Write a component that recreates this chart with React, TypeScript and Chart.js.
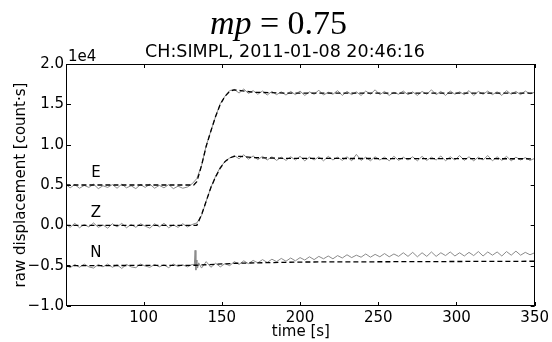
import React, { useEffect, useRef } from "react";
import { Chart, registerables } from "chart.js";
Chart.register(...registerables);

// ---- data ----
const T_START = 50;
const T_STEP = 3;

const eData = [
  5100, 4650, 5050, 4600, 4950, 4700, 5100, 4550, 4900, 4700,
  5050, 4600, 5100, 4650, 4900, 4550, 5050, 4700, 5100, 4600,
  4950, 4650, 5050, 4550, 4850, 4600, 4750, 5150, 5800, 7400,
  9900, 11700, 13500, 15100, 16000, 16700,
  16850, 16400, 16900, 16350, 16700, 16250, 16650, 16150, 16600, 16200,
  16550, 16150, 16600, 16200, 16650, 16100, 16550, 16250, 16750, 16150,
  16500, 16250, 16700, 16100, 16600, 16200, 16550, 16100, 16650, 16250,
  16800, 16200, 16600, 16100, 16500, 16250, 16650, 16200, 16550, 16100,
  16600, 16250, 16800, 16200, 16600, 16100, 16650, 16250, 16550, 16200,
  16700, 16100, 16600, 16250, 16650, 16200, 16550, 16100, 16700, 16250,
  16600, 16200, 16650, 16300, 16500,
];

const zData = [
  200, -250, 250, -300, 100, -200, 300, -250, 50, -350,
  200, -200, 250, -300, 100, -250, 200, -100, -350, 200,
  -200, 250, -300, 50, -250, 200, -200, 100, 300, 1200,
  3000, 4700, 6100, 7200, 7900, 8350,
  8650, 8250, 8750, 8200, 8600, 8150, 8550, 8100, 8500, 8050,
  8450, 8050, 8500, 8100, 8550, 8000, 8450, 8100, 8500, 8000,
  8550, 8100, 8450, 8050, 8500, 8000, 8800, 8050, 8450, 8000,
  8500, 8100, 8450, 8000, 8550, 8050, 8450, 8100, 8500, 8000,
  8550, 8050, 8450, 8100, 8600, 8000, 8500, 8100, 8650, 8050,
  8500, 8000, 8450, 8100, 8650, 8000, 8500, 8050, 8550, 8000,
  8450, 8100, 8400, 8050, 8300,
];

const nData = [
  -4900, -5250, -4850, -5200, -4800, -5150, -5300, -4850, -5150, -4800,
  -5200, -4900, -5350, -4850, -5150, -5250, -4800, -5050, -5200, -4850,
  -5150, -4900, -5250, -4800, -5100, -4900, -5150, -4850, -4800, -5300,
  -4500, -5200, -4700, -5150, -4750, -5000,
  -4500, -4850, -4400, -4750, -4350, -4650, -4250, -4600, -4200, -4500,
  -4100, -4450, -4050, -4400, -4000, -4300, -3900, -4250, -3850, -4150,
  -3800, -4150, -3750, -4050, -3650, -4000, -3700, -3950, -3550, -3950,
  -3600, -3900, -3500, -3900, -3550, -3850, -3400, -3850, -3350, -3900,
  -3400, -3850, -3300, -3850, -3400, -3750, -3300, -3800, -3400, -3800,
  -3350, -3750, -3250, -3800, -3300, -3700, -3300, -3800, -3250, -3700,
  -3200, -3700, -3350, -3650, -3400,
];

const nSpikeT = [132.4, 132.9, 133.4, 133.9, 134.5, 135.2];
const nSpikeV = [-4950, -3100, -5550, -4300, -5300, -4650];

const eModelT = [50, 132, 134, 137, 140, 143, 146, 149, 152, 155, 158, 162, 170, 190, 350];
const eModelV = [5000, 5000, 5400, 7400, 9800, 11700, 13500, 15000, 16000, 16600, 16800, 16700, 16500, 16400, 16400];

const zModelT = [50, 134, 137, 140, 143, 146, 149, 152, 155, 158, 162, 170, 190, 350];
const zModelV = [0, 0, 1300, 3000, 4700, 6000, 7100, 7900, 8350, 8550, 8550, 8400, 8300, 8250];

const nModelT = [50, 133, 160, 200, 350];
const nModelV = [-5000, -4950, -4700, -4550, -4450];

const traceNames = ["E", "Z", "N"];
const traceLabelT = [69.5, 69.5, 69.5];
const traceLabelV = [6500, 1550, -3400];

const xTicks = [100, 150, 200, 250, 300, 350];
const yTicks = [-10000, -5000, 0, 5000, 10000, 15000, 20000];
const X_MIN = 51;
const X_MAX = 350;
const Y_MIN = -10000;
const Y_MAX = 20000;

const mainTitleItalic = "mp";
const mainTitleRest = " = 0.75";
const subTitle = "CH:SIMPL, 2011-01-08 20:46:16";
const xTitle = "time [s]";
const yTitle = "raw displacement [count\u00b7s]";
const offsetText = "1e4";

// ---- helpers ----
const uniform = (vals: number[]) => vals.map((v, i) => ({ x: T_START + i * T_STEP, y: v }));
const pairs = (ts: number[], vs: number[]) => ts.map((t, i) => ({ x: t, y: vs[i] }));

const FONT = "'DejaVu Sans', sans-serif";
const GRAY = "#8a8a8a";

const overlay = {
  id: "overlay",
  afterDraw(chart: any) {
    const { ctx, chartArea: a, scales } = chart;
    const xs = scales.x;
    const ys = scales.y;
    ctx.save();
    ctx.strokeStyle = "#000";
    ctx.lineWidth = 1;
    ctx.strokeRect(Math.round(a.left) - 0.5, Math.round(a.top) + 0.5, Math.round(a.right - a.left), Math.round(a.bottom - a.top) - 1);
    const TL = 4;
    ctx.beginPath();
    xTicks.forEach((v) => {
      const px = Math.round(xs.getPixelForValue(v)) + 0.5;
      ctx.moveTo(px, a.bottom);
      ctx.lineTo(px, a.bottom - TL);
      ctx.moveTo(px, a.top);
      ctx.lineTo(px, a.top + TL);
    });
    yTicks.forEach((v) => {
      const py = Math.round(ys.getPixelForValue(v)) + 0.5;
      ctx.moveTo(a.left, py);
      ctx.lineTo(a.left + TL, py);
      ctx.moveTo(a.right, py);
      ctx.lineTo(a.right - TL, py);
    });
    ctx.stroke();

    ctx.fillStyle = "#000";
    ctx.font = `15px ${FONT}`;
    ctx.textAlign = "center";
    ctx.textBaseline = "middle";
    traceNames.forEach((n, i) => {
      ctx.fillText(n, xs.getPixelForValue(traceLabelT[i]), ys.getPixelForValue(traceLabelV[i]));
    });

    ctx.textAlign = "left";
    ctx.textBaseline = "alphabetic";
    ctx.font = `15px ${FONT}`;
    ctx.fillText(offsetText, a.left + 1, a.top - 3);

    ctx.textAlign = "center";
    ctx.font = `17.5px ${FONT}`;
    ctx.fillText(subTitle, 285, 57);

    ctx.textAlign = "left";
    const fi = "italic 34px 'Liberation Serif', serif";
    const fr = "34px 'Liberation Serif', serif";
    ctx.font = fi;
    const w1 = ctx.measureText(mainTitleItalic).width;
    ctx.font = fr;
    const w2 = ctx.measureText(mainTitleRest).width;
    const x0 = 278.5 - (w1 + w2) / 2;
    ctx.font = fi;
    ctx.fillText(mainTitleItalic, x0, 34);
    ctx.font = fr;
    ctx.fillText(mainTitleRest, x0 + w1, 34);

    ctx.font = `15px ${FONT}`;
    ctx.textAlign = "center";
    ctx.textBaseline = "alphabetic";
    ctx.fillText(xTitle, (a.left + a.right) / 2, 336);
    ctx.save();
    ctx.translate(25, (a.top + a.bottom) / 2);
    ctx.rotate(-Math.PI / 2);
    ctx.fillText(yTitle, 0, 0);
    ctx.restore();

    ctx.restore();
  },
};

export default function App() {
  const ref = useRef<HTMLCanvasElement>(null);
  useEffect(() => {
    if (!ref.current) return;
    const nPoints = uniform(nData)
      .concat(pairs(nSpikeT, nSpikeV))
      .sort((p, q) => p.x - q.x);
    const dashed = { borderColor: "#000", borderWidth: 1.3, borderDash: [5, 3], pointRadius: 0, fill: false, tension: 0 };
    const gray = { borderColor: GRAY, borderWidth: 1, pointRadius: 0, fill: false, tension: 0 };
    const chart = new Chart(ref.current, {
      type: "line",
      data: {
        datasets: [
          { ...dashed, data: pairs(eModelT, eModelV) },
          { ...dashed, data: pairs(zModelT, zModelV) },
          { ...dashed, data: pairs(nModelT, nModelV) },
          { ...gray, data: uniform(eData) },
          { ...gray, data: uniform(zData) },
          { ...gray, data: nPoints },
        ],
      },
      options: {
        animation: false,
        responsive: false,
        maintainAspectRatio: false,
        devicePixelRatio: 1,
        layout: { padding: { top: 64, right: 16, left: 0, bottom: 0 } },
        plugins: { legend: { display: false }, tooltip: { enabled: false }, title: { display: false } },
        scales: {
          x: {
            type: "linear",
            min: X_MIN,
            max: X_MAX,
            grid: { display: false, drawTicks: false },
            border: { display: false },
            afterFit: (s: any) => { s.height = 36; },
            afterBuildTicks: (s: any) => { s.ticks = xTicks.map((v) => ({ value: v })); },
            ticks: { padding: 3, maxRotation: 0, autoSkip: false, color: "#000", font: { family: FONT, size: 15 }, callback: (v: any) => String(v) },
          },
          y: {
            type: "linear",
            min: Y_MIN,
            max: Y_MAX,
            grid: { display: false, drawTicks: false },
            border: { display: false },
            afterFit: (s: any) => { s.width = 67; },
            afterBuildTicks: (s: any) => { s.ticks = yTicks.map((v) => ({ value: v })); },
            ticks: {
              padding: 3,
              autoSkip: false,
              color: "#000",
              font: { family: FONT, size: 15 },
              callback: (v: any) => (Number(v) / 1e4).toFixed(1).replace("-", "\u2212"),
            },
          },
        },
      },
      plugins: [overlay],
    });
    return () => chart.destroy();
  }, []);
  return (
    <div style={{ position: "fixed", left: 0, top: 0, width: 552, height: 342, background: "#fff" }}>
      <canvas ref={ref} width={552} height={342} style={{ width: 552, height: 342, display: "block" }} />
    </div>
  );
}
